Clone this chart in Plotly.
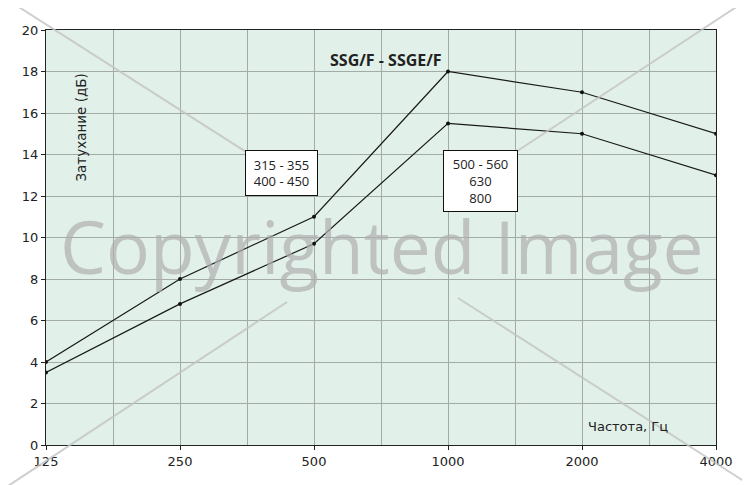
import plotly.graph_objects as go

freqs = ["125", "250", "500", "1000", "2000", "4000"]
upper = [4.0, 8.0, 11.0, 18.0, 17.0, 15.0]
lower = [3.5, 6.8, 9.7, 15.5, 15.0, 13.0]
y_ticks = [0, 2, 4, 6, 8, 10, 12, 14, 16, 18, 20]

W, H = 750, 485
OFF = 8  # default page body margin
L, R, T, B = 46, 716, 30, 445  # plot area in page pixels

def px(x, y):
    return (x - L) / (R - L), (B - y) / (B - T)

idx = list(range(len(freqs)))
fig = go.Figure()
for s in (upper, lower):
    fig.add_trace(go.Scatter(x=idx, y=s, mode="lines+markers",
                             line=dict(color="#1a1a1a", width=1.2),
                             marker=dict(color="#111", size=4),
                             showlegend=False, hoverinfo="skip"))

shapes = []
for (x0, y0, x1, y1) in [(0, -5, 290, 180), (750, -2, 455, 192),
                         (5, 488, 287, 302), (458, 298, 750, 485)]:
    a = px(x0, y0); b = px(x1, y1)
    shapes.append(dict(type="line", xref="paper", yref="paper",
                       x0=a[0], y0=a[1], x1=b[0], y1=b[1],
                       line=dict(color="rgba(195,195,195,0.8)", width=2),
                       layer="above"))

wx, wy = px(382, 245)
annotations = [
    dict(text="Copyrighted Image", xref="paper", yref="paper", x=wx, y=wy,
         showarrow=False, font=dict(family="Open Sans", size=73,
                                    color="rgba(175,175,175,0.7)")),
    dict(text="<b>SSG/F - SSGE/F</b>", xref="paper", yref="paper",
         x=px(386, 47)[0], y=px(386, 47)[1], showarrow=False,
         font=dict(family="Open Sans", size=16, color="#222")),
    dict(text="315 - 355<br>400 - 450", x=1.754, y=13.1, showarrow=False,
         bgcolor="white", bordercolor="#111", borderwidth=1, borderpad=0,
         width=71, height=44,
         font=dict(family="Open Sans", size=13, color="#222")),
    dict(text="500 - 560<br>630<br>800", x=3.246, y=12.72, showarrow=False,
         bgcolor="white", bordercolor="#111", borderwidth=1, borderpad=0,
         width=73, height=60,
         font=dict(family="Open Sans", size=13, color="#222")),
    dict(text="Частота, Гц", x=4.34, y=0.9, showarrow=False,
         font=dict(family="DejaVu Sans", size=13, color="#222")),
    dict(text="Затухание (дБ)", x=0.254, y=15.3, showarrow=False, textangle=-90,
         font=dict(family="DejaVu Sans", size=13.5, color="#222")),
]

fig.update_layout(
    width=W, height=H,
    margin=dict(l=L - OFF, r=W - (R - OFF), t=T - OFF, b=H - (B - OFF),
                autoexpand=False),
    paper_bgcolor="white", plot_bgcolor="#e1f1e9",
    shapes=shapes, annotations=annotations,
    xaxis=dict(range=[0, 5], tickvals=idx, ticktext=freqs,
               showgrid=True, gridcolor="#a3aba7", gridwidth=1,
               minor=dict(dtick=0.5, tick0=0, showgrid=True, gridcolor="#a3aba7", gridwidth=1),
               ticks="outside", ticklen=4, tickcolor="#222",
               showline=True, linecolor="#222", linewidth=1, mirror=True,
               zeroline=False, automargin=False,
               tickfont=dict(family="DejaVu Sans", size=13, color="#222")),
    yaxis=dict(range=[0, 20], tickvals=y_ticks,
               showgrid=True, gridcolor="#a3aba7", gridwidth=1,
               ticks="outside", ticklen=4, tickcolor="#222",
               showline=True, linecolor="#222", linewidth=1, mirror=True,
               zeroline=False, automargin=False,
               tickfont=dict(family="DejaVu Sans", size=13, color="#222")),
)

fig.write_html("out.html")
